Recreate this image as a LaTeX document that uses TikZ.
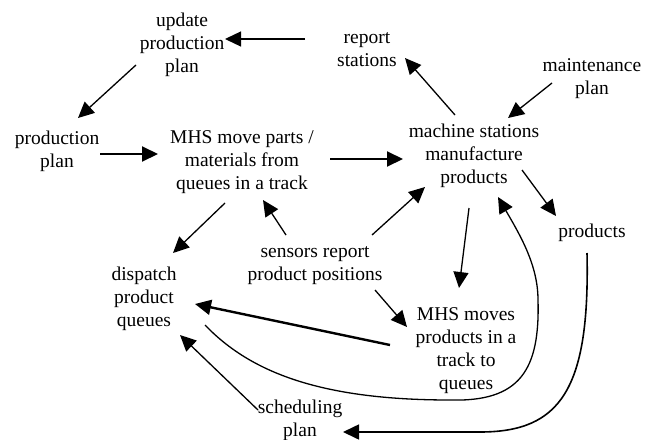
\documentclass[tikz,border=0pt]{standalone}
\usepackage{fontspec}
\setmainfont{Liberation Serif}
\newfontfamily\labelface{Liberation Serif}
\usetikzlibrary{arrows.meta}
\begin{document}
\begin{tikzpicture}[x=1pt, y=-1pt,
    lbl/.style={align=center, inner sep=1pt, font=\labelface\fontsize{19.5}{23}\selectfont},
    arr/.style={line width=1.3pt, -{Triangle[length=16pt, width=15pt]}}]
    \useasboundingbox (0,0) rectangle (652,439);
    \node (update) [lbl] at (182,45) {update\\production\\plan};
    \node (report) [lbl] at (367,50) {report\\stations};
    \node (maint) [lbl] at (592,79) {maintenance\\plan};
    \node (pplan) [lbl] at (57,151) {production\\plan};
    \node (mhsmove) [lbl] at (242,162) {MHS move parts /\\materials from\\queues in a track};
    \node (machine) [lbl] at (474,156) {machine stations\\manufacture\\products};
    \node (products) [lbl] at (592,233) {products};
    \node (sensors) [lbl] at (315,266) {sensors report\\product positions};
    \node (dispatch) [lbl] at (144,299) {dispatch\\product\\queues};
    \node (mhsmoves) [lbl] at (466,351) {MHS moves\\products in a\\track to\\queues};
    \node (sched) [lbl] at (300,420) {scheduling\\plan};

    \draw [arr] ([shift={(-62,-11)}]report.center) -- ([shift={(43,-6)}]update.center);
    \draw [arr] ([shift={(-46,20)}]update.center) -- ([shift={(21,-33)}]pplan.center);
    \draw [arr, line width=2pt] ([shift={(43,3)}]pplan.center) -- ([shift={(-84,-8)}]mhsmove.center);
    \draw [arr, line width=2pt] ([shift={(88,-3)}]mhsmove.center) -- ([shift={(-71,3)}]machine.center);
    \draw [arr] ([shift={(-19,-41)}]machine.center) -- ([shift={(38,8)}]report.center);
    \draw [arr] ([shift={(-40,4)}]maint.center) -- ([shift={(34,-38)}]machine.center);
    \draw [arr] ([shift={(48,14)}]machine.center) -- ([shift={(-36,-17)}]products.center);
    \draw [arr] ([shift={(-17,41)}]mhsmove.center) -- ([shift={(29,-46)}]dispatch.center);
    \draw [arr] ([shift={(-29,-31)}]sensors.center) -- ([shift={(21,38)}]mhsmove.center);
    \draw [arr] ([shift={(57,-31)}]sensors.center) -- ([shift={(-49,31)}]machine.center);
    \draw [arr] ([shift={(-5,52)}]machine.center) -- ([shift={(-7,-63)}]mhsmoves.center);
    \draw [arr] ([shift={(60,24)}]sensors.center) -- ([shift={(-59,-24)}]mhsmoves.center);
    \draw [arr, line width=2.4pt] ([shift={(-76,-6)}]mhsmoves.center) -- ([shift={(51,5)}]dispatch.center);
    \draw [arr] ([shift={(-42,-10)}]sched.center) -- ([shift={(36,36)}]dispatch.center);

    % loops round the track
    \draw [arr] ([shift={(61,26)}]dispatch.center) .. controls (250,372) and (320,400) .. (450,400)
        .. controls (520,402) and (540,370) .. (538,300)
        .. controls (538,265) and (520,235) .. ([shift={(24,41)}]machine.center);
    \draw [arr, line width=1.6pt] ([shift={(-5,20)}]products.center) .. controls (590,390) and (560,432) .. (480,432)
        -- ([shift={(43,12)}]sched.center);
\end{tikzpicture}
\end{document}
